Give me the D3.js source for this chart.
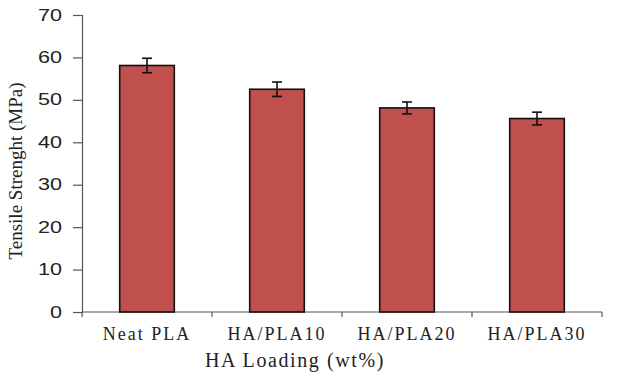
<!DOCTYPE html>
<html>
<head>
<meta charset="utf-8">
<script src="https://cdn.jsdelivr.net/npm/d3@7"></script>
<style>
	body { margin: 0; background: #fff; }
	svg { display: block; }
</style>
</head>
<body>
<svg id="chart" width="617" height="376"></svg>
<script>
// data
var categories	= ["Neat PLA", "HA/PLA10", "HA/PLA20", "HA/PLA30"];
var strength	= [58.1, 52.5, 48.1, 45.6];
var errors	= [1.7, 1.7, 1.4, 1.5];
var yTicks	= [0, 10, 20, 30, 40, 50, 60, 70];

(function() {
	var svg	= d3.select("#chart"),
		m	= { left: 82, right: 602, top: 15, bottom: 312 },
		serif	= "'Liberation Serif', 'Times New Roman', serif";

	var x	= d3.scaleBand().domain(categories).range([m.left, m.right]).padding(0),
		y	= d3.scaleLinear().domain([0, 70]).range([m.bottom, m.top]);

	var barW = x.bandwidth() * 0.42;
	function cx(d) { return x(d) + x.bandwidth() / 2; }

	// y axis
	var yAxis = svg.append("g").attr("transform", "translate(" + m.left + ",0)")
		.call(d3.axisLeft(y).tickValues(yTicks).tickSize(9));
	yAxis.select(".domain").attr("stroke", "#555").attr("stroke-width", 1.2);
	yAxis.selectAll(".tick line").attr("stroke", "#555").attr("stroke-width", 1.2);
	// labels in the picture are stretched wide
	yAxis.selectAll(".tick text").attr("fill", "#222")
		.attr("x", -20 / 1.35).attr("transform", "scale(1.35,1)")
		.style("font-family", "'Liberation Sans', Arial, sans-serif").style("font-size", "16px");

	// x axis line + ticks at band edges
	var xg = svg.append("g");
	xg.append("line").attr("x1", m.left).attr("x2", m.right).attr("y1", m.bottom).attr("y2", m.bottom)
		.attr("stroke", "#555").attr("stroke-width", 1.2);
	xg.selectAll(".xt").data(categories.concat([null])).enter().append("line")
		.attr("x1", function(d, i) { return m.left + i * x.step(); })
		.attr("x2", function(d, i) { return m.left + i * x.step(); })
		.attr("y1", m.bottom).attr("y2", m.bottom + 5)
		.attr("stroke", "#555").attr("stroke-width", 1.2);
	xg.selectAll(".xl").data(categories).enter().append("text")
		.attr("x", cx)
		.attr("y", 340)
		.attr("text-anchor", "middle")
		.attr("fill", "#222")
		.style("font-family", serif).style("font-size", "18px").style("letter-spacing", "2px")
		.text(function(d) { return d; });

	// bars
	svg.selectAll(".bar").data(categories).enter().append("rect")
		.attr("x", function(d) { return x(d) + (x.bandwidth() - barW) / 2; })
		.attr("y", function(d, i) { return y(strength[i]); })
		.attr("width", barW)
		.attr("height", function(d, i) { return m.bottom - y(strength[i]); })
		.attr("fill", "#C0504D").attr("stroke", "#111").attr("stroke-width", 1.6);

	// error bars
	var eb = svg.selectAll(".err").data(categories).enter().append("g");
	eb.append("line")
		.attr("x1", cx).attr("x2", cx)
		.attr("y1", function(d, i) { return y(strength[i] + errors[i]); })
		.attr("y2", function(d, i) { return y(strength[i] - errors[i]); });
	[1, -1].forEach(function(s) {
		eb.append("line")
			.attr("x1", function(d) { return cx(d) - 5; })
			.attr("x2", function(d) { return cx(d) + 5; })
			.attr("y1", function(d, i) { return y(strength[i] + s * errors[i]); })
			.attr("y2", function(d, i) { return y(strength[i] + s * errors[i]); });
	});
	eb.selectAll("line").attr("stroke", "#111").attr("stroke-width", 1.6);

	// axis titles
	svg.append("text")
		.attr("transform", "translate(22,171) rotate(-90)")
		.attr("text-anchor", "middle").attr("fill", "#222")
		.style("font-family", serif).style("font-size", "19px")
		.text("Tensile Strenght (MPa)");
	svg.append("text")
		.attr("x", 295).attr("y", 367)
		.attr("text-anchor", "middle").attr("fill", "#222")
		.style("font-family", serif).style("font-size", "20px").style("letter-spacing", "1.6px")
		.text("HA Loading (wt%)");
})();
</script>
</body>
</html>
